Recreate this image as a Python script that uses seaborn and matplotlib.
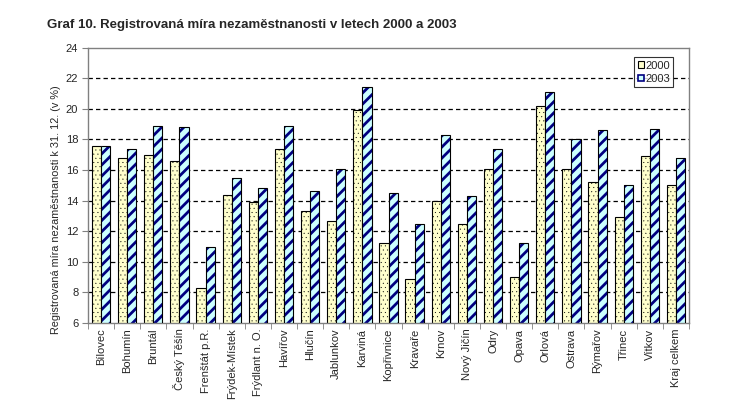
import matplotlib
matplotlib.use("Agg")
import matplotlib.pyplot as plt
import matplotlib.patches as mpatches
import seaborn as sns
import pandas as pd
import numpy as np

cities = ["Bílovec", "Bohumín", "Bruntál", "Český Těšín", "Frenštát p.R.", "Frýdek-Místek",
          "Frýdlant n. O.", "Havířov", "Hlučín", "Jablunkov", "Karviná", "Kopřivnice",
          "Kravaře", "Krnov", "Nový Jičín", "Odry", "Opava", "Orlová", "Ostrava",
          "Rýmařov", "Třinec", "Vítkov", "Kraj celkem"]
vals_2000 = [17.6, 16.8, 17.0, 16.6, 8.3, 14.4, 13.9, 17.4, 13.3, 12.7, 19.9, 11.2,
             8.9, 14.0, 12.5, 16.1, 9.0, 20.2, 16.1, 15.2, 12.9, 16.9, 15.0]
vals_2003 = [17.6, 17.4, 18.9, 18.8, 11.0, 15.5, 14.8, 18.9, 14.6, 16.1, 21.4, 14.5,
             12.5, 18.3, 14.3, 17.4, 11.2, 21.1, 18.0, 18.6, 15.0, 18.7, 16.8]
years = ["2000", "2003"]
yticks = [6, 8, 10, 12, 14, 16, 18, 20, 22, 24]

title = "Graf 10. Registrovaná míra nezaměstnanosti v letech 2000 a 2003"
ylabel = "Registrovaná míra nezaměstnanosti k 31. 12. (v %)"

df = pd.DataFrame({
    "city": cities * 2,
    "value": vals_2000 + vals_2003,
    "year": [years[0]] * len(cities) + [years[1]] * len(cities),
})

sns.set_style("white")
plt.rcParams["font.family"] = ["Liberation Sans", "DejaVu Sans"]
plt.rcParams["hatch.linewidth"] = 2.0

fc_2000 = "#FFFFCC"
fc_2003 = "#CCFFFF"
navy = "#000080"
gray = "#808080"

fig = plt.figure(figsize=(7.45, 4.16), dpi=100)
ax = fig.add_axes([88 / 745, 1 - 323 / 416, 601 / 745, (323 - 47.7) / 416])

sns.barplot(data=df, x="city", y="value", hue="year", order=cities, hue_order=years,
            palette=[fc_2000, fc_2003], width=0.7, ax=ax, legend=False,
            edgecolor="black", linewidth=0.8, saturation=1)

ax.set_ylim(6, 24)
ax.set_yticks(yticks)
ax.set_xlim(-0.5, len(cities) - 0.5)

# grid (dashed black)
for y in yticks[1:-1]:
    ax.axhline(y, color="black", lw=0.9, ls=(0, (3.5, 2.5)), zorder=0.5)

cont2000, cont2003 = ax.containers[0], ax.containers[1]
for p in cont2000:
    p.set_hatch("....")
    p.set_edgecolor("black")
    p.set_zorder(2)
    if hasattr(p, "set_hatch_linewidth"):
        p.set_hatch_linewidth(0.2)
for p in cont2003:
    p.set_hatch("///")
    p.set_edgecolor(navy)
    p.set_linewidth(0)
    p.set_zorder(2)
    outline = mpatches.Rectangle(p.get_xy(), p.get_width(), p.get_height(),
                                 fill=False, edgecolor="black", lw=0.8, zorder=3)
    ax.add_patch(outline)

# spines
for s in ["left", "bottom", "top", "right"]:
    ax.spines[s].set_visible(True)
    ax.spines[s].set_color(gray)
    ax.spines[s].set_linewidth(1.0)

# ticks
ax.set_xticks(np.arange(len(cities)))
ax.set_xticklabels(cities, rotation=90, fontsize=8)
ax.set_xticks(np.arange(len(cities) + 1) - 0.5, minor=True)
ax.tick_params(axis="x", which="major", length=0, pad=4)
ax.tick_params(axis="x", which="minor", length=4, color=gray, direction="out", bottom=True)
ax.tick_params(axis="y", length=4, color=gray, direction="out", left=True, labelsize=8, pad=3)
ax.set_xlabel("")
ax.set_ylabel(ylabel, fontsize=7.8)
ax.yaxis.set_label_coords(-0.045, 0.41)

# legend
h2000 = mpatches.Patch(facecolor=fc_2000, edgecolor="black", lw=0.8)
h2003 = mpatches.Patch(facecolor=fc_2003, edgecolor=navy, lw=1.2)
leg = ax.legend([h2000, h2003], years, loc="upper right", bbox_to_anchor=(0.974, 0.965),
                fontsize=8, frameon=True, fancybox=False, handlelength=0.55,
                handleheight=0.55, handletextpad=0.15, borderpad=0.3, labelspacing=0.3,
                borderaxespad=0)
leg.get_frame().set_edgecolor("black")
leg.get_frame().set_linewidth(0.8)

fig.text(47 / 745, 1 - 25 / 416, title, fontsize=9.5, fontweight="bold",
         ha="left", va="center")

fig.savefig("out.png", dpi=100)
